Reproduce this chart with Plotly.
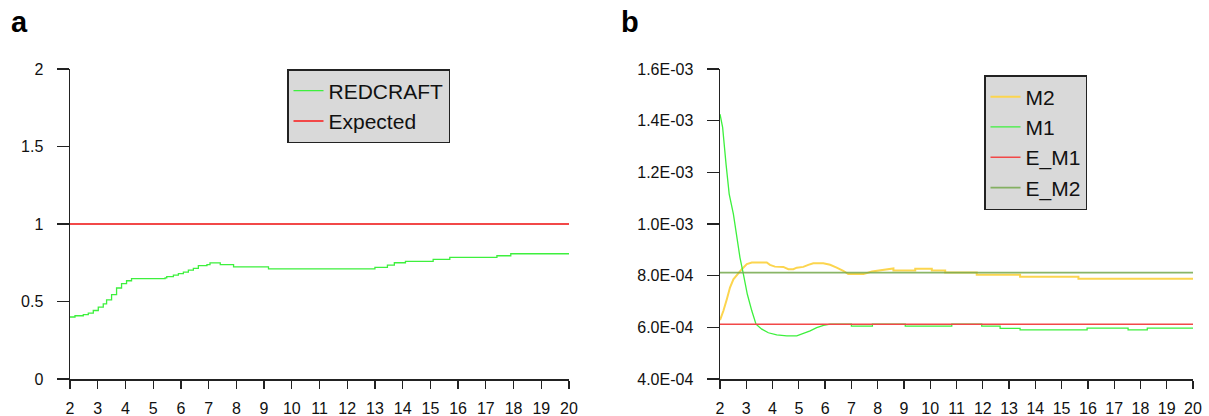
import plotly.graph_objects as go

# ---------------- data ----------------
x_ticks = list(range(2, 21))

# panel a
redcraft_x = [2.0, 2.18, 2.48, 2.66, 2.84, 3.02, 3.20, 3.32, 3.50, 3.68, 3.86, 4.04, 4.22,
              5.43, 5.49, 5.73, 5.91, 6.09, 6.27, 6.45, 6.63, 6.94, 7.05, 7.42, 7.90, 9.16,
              13.0, 13.45, 13.7, 14.1, 15.1, 15.7, 17.4, 17.9, 20.0]
redcraft_y = [0.400, 0.408, 0.415, 0.425, 0.442, 0.464, 0.485, 0.511, 0.544, 0.587, 0.615, 0.634, 0.647,
              0.652, 0.660, 0.670, 0.680, 0.690, 0.702, 0.714, 0.731, 0.738, 0.749, 0.738, 0.723, 0.710,
              0.720, 0.735, 0.750, 0.759, 0.772, 0.785, 0.795, 0.808, 0.808]
expected_x = [2, 20]
expected_y = [1.0, 1.0]
a_yticks = [0, 0.5, 1, 1.5, 2]
a_yticktext = ["0", "0.5", "1", "1.5", "2"]

# panel b (values in units of 1e-4)
SCALE = 1e-4
m2_x = [2.0, 2.13, 2.26, 2.38, 2.51, 2.66, 2.83, 3.02, 3.21, 3.78, 3.90, 4.09, 4.41, 4.60, 4.79,
        4.92, 5.17, 5.36, 5.55, 5.93, 6.19, 6.44, 6.69, 6.88, 7.46, 7.78, 8.22, 8.60, 8.60, 9.43,
        9.43, 10.06, 10.06, 10.57, 10.57, 11.77, 11.77, 13.42, 13.42, 15.64, 15.64, 20.0]
m2_y = [6.28, 6.64, 7.09, 7.54, 7.86, 8.06, 8.25, 8.45, 8.51, 8.51, 8.42, 8.35, 8.34, 8.25, 8.25,
        8.31, 8.34, 8.42, 8.48, 8.48, 8.42, 8.31, 8.19, 8.06, 8.06, 8.16, 8.22, 8.28, 8.20, 8.20,
        8.27, 8.27, 8.20, 8.20, 8.12, 8.12, 8.04, 8.04, 7.96, 7.96, 7.88, 7.88]
m1_x = [2.0, 2.10, 2.23, 2.35, 2.51, 2.66, 2.76, 2.89, 3.04, 3.21, 3.37, 3.59, 3.84, 4.16, 4.54,
        4.92, 5.17, 5.43, 5.68, 5.94, 6.19, 7.0, 7.0, 7.8, 7.8, 9.05, 9.05, 10.82, 10.82, 11.96,
        11.96, 12.66, 12.66, 13.42, 13.42, 15.97, 15.97, 17.53, 17.53, 18.26, 18.26, 20.0]
m1_y = [14.25, 13.74, 12.32, 11.16, 10.38, 9.28, 8.70, 8.06, 7.28, 6.64, 6.12, 5.93, 5.79, 5.71, 5.67,
        5.67, 5.76, 5.86, 5.99, 6.08, 6.12, 6.12, 6.05, 6.05, 6.12, 6.12, 6.05, 6.05, 6.12, 6.12,
        6.05, 6.05, 5.96, 5.96, 5.90, 5.90, 5.97, 5.97, 5.90, 5.90, 5.97, 5.97]
e_m1_x = [2, 20]
e_m1_y = [6.12, 6.12]
e_m2_x = [2, 20]
e_m2_y = [8.12, 8.12]
b_yticks = [4, 6, 8, 10, 12, 14, 16]
b_yticktext = ["4.0E-04", "6.0E-04", "8.0E-04", "1.0E-03", "1.2E-03", "1.4E-03", "1.6E-03"]

# ---------------- styling ----------------
FONT = "Liberation Sans, Arial, Helvetica, sans-serif"
GREEN = "#3df03d"
RED = "#f24848"
YELLOW = "#fcd54e"
OLIVE = "#74a84c"
AXC = "#222222"

W, H = 1209, 416
def px_x(p): return p / W
def px_y(p): return 1 - p / H

fig = go.Figure()

fig.add_trace(go.Scatter(x=redcraft_x, y=redcraft_y, mode="lines", line=dict(color=GREEN, width=1.3, shape="hv"),
                         name="REDCRAFT", xaxis="x", yaxis="y", legend="legend", legendgroup="a1"))
fig.add_trace(go.Scatter(x=expected_x, y=expected_y, mode="lines", line=dict(color=RED, width=2),
                         name="Expected", xaxis="x", yaxis="y", legend="legend", legendgroup="a2"))

fig.add_trace(go.Scatter(x=m2_x, y=[v * SCALE for v in m2_y], mode="lines", line=dict(color=YELLOW, width=2),
                         name="M2", xaxis="x2", yaxis="y2", legend="legend2", legendgroup="b1"))
fig.add_trace(go.Scatter(x=m1_x, y=[v * SCALE for v in m1_y], mode="lines", line=dict(color=GREEN, width=1.3),
                         name="M1", xaxis="x2", yaxis="y2", legend="legend2", legendgroup="b2"))
fig.add_trace(go.Scatter(x=e_m1_x, y=[v * SCALE for v in e_m1_y], mode="lines", line=dict(color=RED, width=1.6),
                         name="E_M1", xaxis="x2", yaxis="y2", legend="legend2", legendgroup="b3"))
fig.add_trace(go.Scatter(x=e_m2_x, y=[v * SCALE for v in e_m2_y], mode="lines", line=dict(color=OLIVE, width=1.8),
                         name="E_M2", xaxis="x2", yaxis="y2", legend="legend2", legendgroup="b4", opacity=0.85))

tickfont = dict(family=FONT, size=16, color="#111111")
common_x = dict(range=[2, 20], tickmode="array", tickvals=x_ticks, ticktext=[str(t) for t in x_ticks],
                ticks="outside", ticklen=8, tickwidth=1.3, tickcolor=AXC, showline=True, linecolor=AXC,
                linewidth=1.5, showgrid=False, zeroline=False, tickfont=tickfont, ticklabelstandoff=6,
                fixedrange=True, automargin=False)
common_y = dict(tickmode="array", ticks="outside", ticklen=12, tickwidth=1.3, tickcolor=AXC, showline=True,
                linecolor=AXC, linewidth=1.5, showgrid=False, zeroline=False, tickfont=tickfont,
                ticklabelstandoff=10, fixedrange=True, automargin=False)

legfont = dict(family=FONT, size=21, color="#111111")
ydom = [px_y(379), px_y(69)]
fig.update_layout(
    template="none",
    width=W, height=H, margin=dict(l=0, r=0, t=0, b=0, pad=0, autoexpand=False),
    paper_bgcolor="white", plot_bgcolor="white",
    font=dict(family=FONT, color="#111111"),
    xaxis=dict(domain=[px_x(70), px_x(569)], anchor="y", **common_x),
    yaxis=dict(domain=ydom, anchor="x", range=[0, 2], tickvals=a_yticks, ticktext=a_yticktext, **common_y),
    xaxis2=dict(domain=[px_x(720), px_x(1193)], anchor="y2", **common_x),
    yaxis2=dict(domain=ydom, anchor="x2", range=[4e-4, 1.6e-3], tickvals=[v * SCALE for v in b_yticks],
                ticktext=b_yticktext, **common_y),
    legend=dict(x=px_x(287), y=px_y(69), xanchor="left", yanchor="top", bgcolor="#d9d9d9",
                bordercolor="#222222", borderwidth=1.5, font=legfont,
                tracegroupgap=0, traceorder="grouped"),
    legend2=dict(x=px_x(984), y=px_y(75), xanchor="left", yanchor="top", bgcolor="#d9d9d9",
                 bordercolor="#222222", borderwidth=1.5, font=legfont,
                 tracegroupgap=0, traceorder="grouped"),
    showlegend=True,
    annotations=[
        dict(text="<b>a</b>", x=px_x(9), y=px_y(40), xref="paper", yref="paper", xanchor="left",
             yanchor="bottom", showarrow=False, font=dict(family=FONT, size=29, color="#000000")),
        dict(text="<b>b</b>", x=px_x(619), y=px_y(40), xref="paper", yref="paper", xanchor="left",
             yanchor="bottom", showarrow=False, font=dict(family=FONT, size=29, color="#000000")),
    ],
)

fig.write_html("out.html", config={"displayModeBar": False, "staticPlot": True},
               post_script="document.body.style.margin='0px';document.body.style.overflow='hidden';")
